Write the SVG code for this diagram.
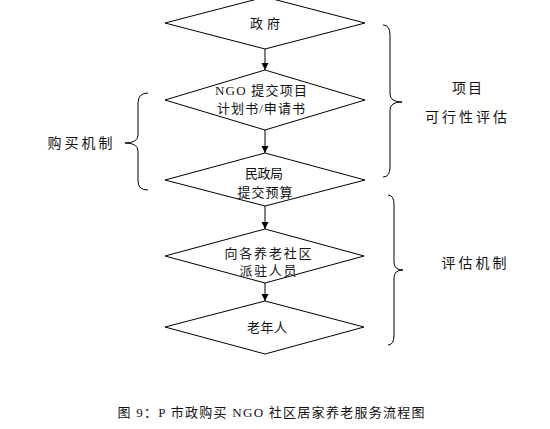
<svg xmlns="http://www.w3.org/2000/svg" width="550" height="429" viewBox="0 0 550 429">
<defs>
<style>
.shape{fill:#fff;stroke:#000;stroke-width:1}
.brace{fill:none;stroke:#000;stroke-width:1}
.edge{stroke:#000;stroke-width:1;fill:none}
text{font-family:"Liberation Serif","Noto Sans CJK SC",serif;font-size:13px;fill:#111;text-anchor:middle}
.side{font-size:14px}
</style>
<marker id="arr" viewBox="0 0 10 10" refX="10" refY="5" markerWidth="7" markerHeight="9" markerUnits="userSpaceOnUse" orient="auto">
<path d="M0,0 L10,5 L0,10 z" fill="#000"/>
</marker>
</defs>
<rect width="550" height="429" fill="#fff"/>
<g id="connectors">
<line class="edge" x1="265" y1="49" x2="265" y2="70" marker-end="url(#arr)"/>
<line class="edge" x1="265" y1="130" x2="265" y2="153" marker-end="url(#arr)"/>
<line class="edge" x1="265" y1="206" x2="265" y2="229" marker-end="url(#arr)"/>
<line class="edge" x1="265" y1="283" x2="265" y2="301" marker-end="url(#arr)"/>
</g>
<g id="n1">
<polygon class="shape" points="265,-3 365,23 265,49 165,23"/>
<text x="265" y="28" textLength="30" lengthAdjust="spacing">政府</text>
</g>
<g id="n2">
<polygon class="shape" points="265,70 365,100 265,130 165,100"/>
<text x="261" y="95" textLength="92" lengthAdjust="spacing">NGO 提交项目</text>
<text x="261" y="113" textLength="88" lengthAdjust="spacing">计划书/申请书</text>
</g>
<g id="n3">
<polygon class="shape" points="265,153 365,180 265,206 165,180"/>
<text x="264" y="178" textLength="38" lengthAdjust="spacing">民政局</text>
<text x="265" y="197" textLength="55" lengthAdjust="spacing">提交预算</text>
</g>
<g id="n4">
<polygon class="shape" points="265,229 364,256 265,283 165,256"/>
<text x="268" y="258" textLength="87" lengthAdjust="spacing">向各养老社区</text>
<text x="268" y="275" textLength="57" lengthAdjust="spacing">派驻人员</text>
</g>
<g id="n5">
<polygon class="shape" points="265,301 364,327 265,354 165,327"/>
<text x="267" y="332" textLength="40" lengthAdjust="spacing">老年人</text>
</g>
<g id="braces">
<path class="brace" d="M148,93 Q138,93 138,103 L138,135 Q138,143 125,143 Q138,143 138,151 L138,181 Q138,190 148,190"/>
<path class="brace" d="M383,25 Q390,25 390,35 L390,94 Q390,102 402,102 Q390,102 390,110 L390,167 Q390,177 383,177"/>
<path class="brace" d="M388,195 Q394,195 394,205 L394,262 Q394,270 403,270 Q394,270 394,278 L394,335 Q394,345 388,345"/>
</g>
<g id="labels">
<text class="side" x="80" y="148" textLength="65" lengthAdjust="spacing">购买机制</text>
<text class="side" x="467" y="93" textLength="30" lengthAdjust="spacing">项目</text>
<text class="side" x="466" y="122" textLength="82" lengthAdjust="spacing">可行性评估</text>
<text class="side" x="474" y="268" textLength="65" lengthAdjust="spacing">评估机制</text>
<text x="271" y="417" textLength="307" lengthAdjust="spacing">图 9：P 市政购买 NGO 社区居家养老服务流程图</text>
</g>
</svg>
